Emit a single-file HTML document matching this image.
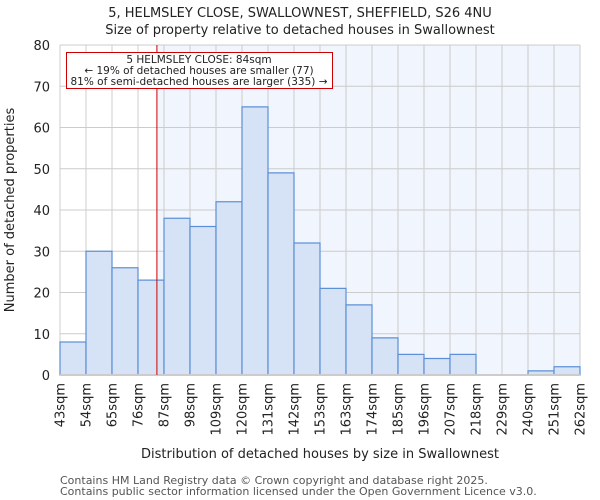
<!DOCTYPE html>
<html><head><meta charset="utf-8"><style>
body{margin:0;background:#fff;}
svg{display:block;font-family:"DejaVu Sans","Liberation Sans",sans-serif;}
</style></head><body>
<svg id="chart" width="600" height="500" viewBox="0 0 600 500">
<text x="300" y="17" text-anchor="middle" font-size="13" fill="#222">5, HELMSLEY CLOSE, SWALLOWNEST, SHEFFIELD, S26 4NU</text>
<text x="300" y="34" text-anchor="middle" font-size="13" fill="#222">Size of property relative to detached houses in Swallownest</text>
<g id="plot"></g>
<text transform="translate(14,210) rotate(-90)" text-anchor="middle" font-size="13" fill="#222">Number of detached properties</text>
<text x="320" y="458" text-anchor="middle" font-size="13" fill="#222">Distribution of detached houses by size in Swallownest</text>
<text x="60" y="484" font-size="11" fill="#555">Contains HM Land Registry data © Crown copyright and database right 2025.</text>
<text x="60" y="495" font-size="11" fill="#555">Contains public sector information licensed under the Open Government Licence v3.0.</text>
</svg>
<script>
const binLabels=["43sqm","54sqm","65sqm","76sqm","87sqm","98sqm","109sqm","120sqm","131sqm","142sqm","153sqm","163sqm","174sqm","185sqm","196sqm","207sqm","218sqm","229sqm","240sqm","251sqm","262sqm"];
const counts=[8,30,26,23,38,36,42,65,49,32,21,17,9,5,4,5,0,0,1,2];
const yTicks=[0,10,20,30,40,50,60,70,80];
const propertySize=84;
const binStart=43, binStep=11;

const NS="http://www.w3.org/2000/svg";
const L=60,R=580,T=45,B=375,yMax=80;
const n=counts.length;
const bw=(R-L)/n;
const x=v=>L+(v-binStart)/binStep*bw;
const y=v=>B-(v/yMax)*(B-T);
const g=document.getElementById('plot');
function mk(tag,a){const e=document.createElementNS(NS,tag);for(const k in a)e.setAttribute(k,a[k]);g.appendChild(e);return e;}
const px=x(propertySize);
let e=mk('rect',{x:L,y:T,width:px-L,height:B-T,fill:'#ffffff'});


e=mk('rect',{x:px,y:T,width:R-px,height:B-T,fill:'#f1f5fd'});


for(let i=0;i<=n;i++){const gx=L+i*bw;e=mk('line',{x1:gx,y1:T,x2:gx,y2:B,stroke:'#cccccc','stroke-width':1});

}
yTicks.forEach(t=>{e=mk('line',{x1:L,y1:y(t),x2:R,y2:y(t),stroke:'#cccccc','stroke-width':1});


e=mk('text',{x:L-10,y:y(t)+5,'text-anchor':'end','font-size':13,fill:'#222'});e.textContent=t;

});
counts.forEach((c,i)=>{if(c<=0)return;e=mk('rect',{x:L+i*bw,y:y(c),width:bw,height:B-y(c),fill:'#d6e2f5',stroke:'#5a8fd6','stroke-width':1.2});

});
e=mk('line',{x1:L,y1:B,x2:R,y2:B,stroke:'#cccccc','stroke-width':2});


binLabels.forEach((lb,i)=>{const tx=L+i*bw;e=mk('text',{transform:`translate(${tx+4.5},383) rotate(-90)`,'text-anchor':'end','font-size':13,fill:'#222'});e.textContent=lb;

});
e=mk('line',{x1:px,y1:T,x2:px,y2:B,stroke:'#cc0000','stroke-width':1});


e=mk('rect',{x:66.5,y:52.5,width:266,height:36,fill:'#ffffff',stroke:'#cc0000','stroke-width':1});


["5 HELMSLEY CLOSE: "+propertySize+"sqm","← 19% of detached houses are smaller (77)","81% of semi-detached houses are larger (335) →"].forEach((s,i)=>{e=mk('text',{x:199,y:63+i*11,'text-anchor':'middle','font-size':10.5,fill:'#222'});e.textContent=s;

});
</script>
</body></html>
